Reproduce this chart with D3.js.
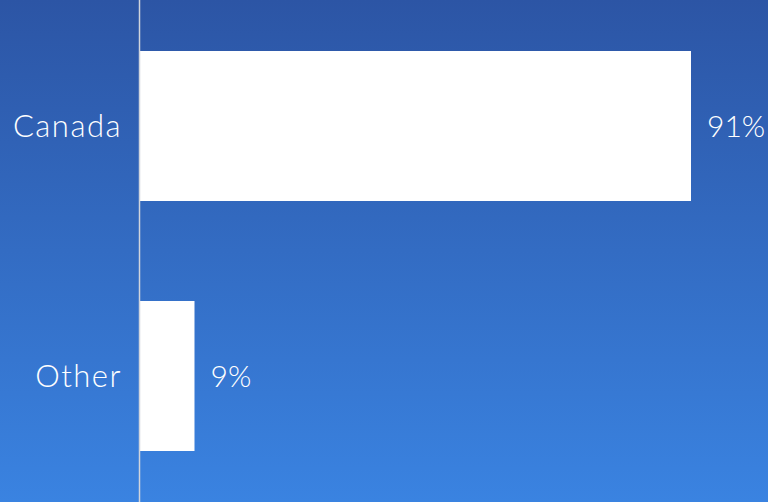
<!DOCTYPE html>
<html>
<head>
<meta charset="utf-8">
<script src="https://cdn.jsdelivr.net/npm/d3@7"></script>
<style>
  html, body { margin: 0; padding: 0; background: #2c56a6; }
  svg { display: block; }
</style>
</head>
<body>
<svg id="chart" width="768" height="502"></svg>
<script>
// Share of respondents by country
const categories = ["Canada", "Other"];
const shares = [91, 9];
const valueLabels = ["91%", "9%"];

const W = 768, H = 502;
const margin = { left: 139, right: 22, top: 1, bottom: 1 };

const svg = d3.select("#chart");

// Vertical background gradient
const defs = svg.append("defs");
const grad = defs.append("linearGradient")
  .attr("id", "bg").attr("x1", 0).attr("y1", 0).attr("x2", 0).attr("y2", 1);
grad.append("stop").attr("offset", "0%").attr("stop-color", "#2c55a5");
grad.append("stop").attr("offset", "100%").attr("stop-color", "#3a83e1");
svg.append("rect").attr("width", W).attr("height", H).attr("fill", "url(#bg)");

const y = d3.scaleBand()
  .domain(categories)
  .range([margin.top, H - margin.bottom])
  .paddingInner(0.4)
  .paddingOuter(0.2);

const x = d3.scaleLinear()
  .domain([0, 100])
  .range([margin.left + 1, margin.left + 1 + 605.5]);

const data = categories.map((c, i) => ({ cat: c, v: shares[i], label: valueLabels[i] }));

svg.append("g").selectAll("rect")
  .data(data)
  .join("rect")
  .attr("x", x(0))
  .attr("y", d => y(d.cat))
  .attr("width", d => x(d.v) - x(0))
  .attr("height", y.bandwidth())
  .attr("fill", "#ffffff");

// Category axis line
svg.append("line")
  .attr("x1", margin.left + 0.5).attr("x2", margin.left + 0.5)
  .attr("y1", 0).attr("y2", H)
  .attr("stroke", "#d0d4dc").attr("stroke-width", 1.5);

const font = "'Lato', 'Open Sans', sans-serif";

svg.append("g").selectAll("text")
  .data(data)
  .join("text")
  .attr("x", margin.left - 17)
  .attr("y", d => y(d.cat) + y.bandwidth() / 2)
  .attr("dy", "0.35em")
  .attr("text-anchor", "end")
  .attr("font-family", font)
  .attr("font-weight", 300)
  .attr("font-size", 31)
  .attr("letter-spacing", 1.5)
  .attr("fill", "#ffffff")
  .text(d => d.cat);

svg.append("g").selectAll("text")
  .data(data)
  .join("text")
  .attr("x", d => x(d.v) + 16)
  .attr("y", d => y(d.cat) + y.bandwidth() / 2)
  .attr("dy", "0.35em")
  .attr("font-family", font)
  .attr("font-weight", 300)
  .attr("font-size", 30)
  .attr("fill", "#ffffff")
  .text(d => d.label);
</script>
</body>
</html>
